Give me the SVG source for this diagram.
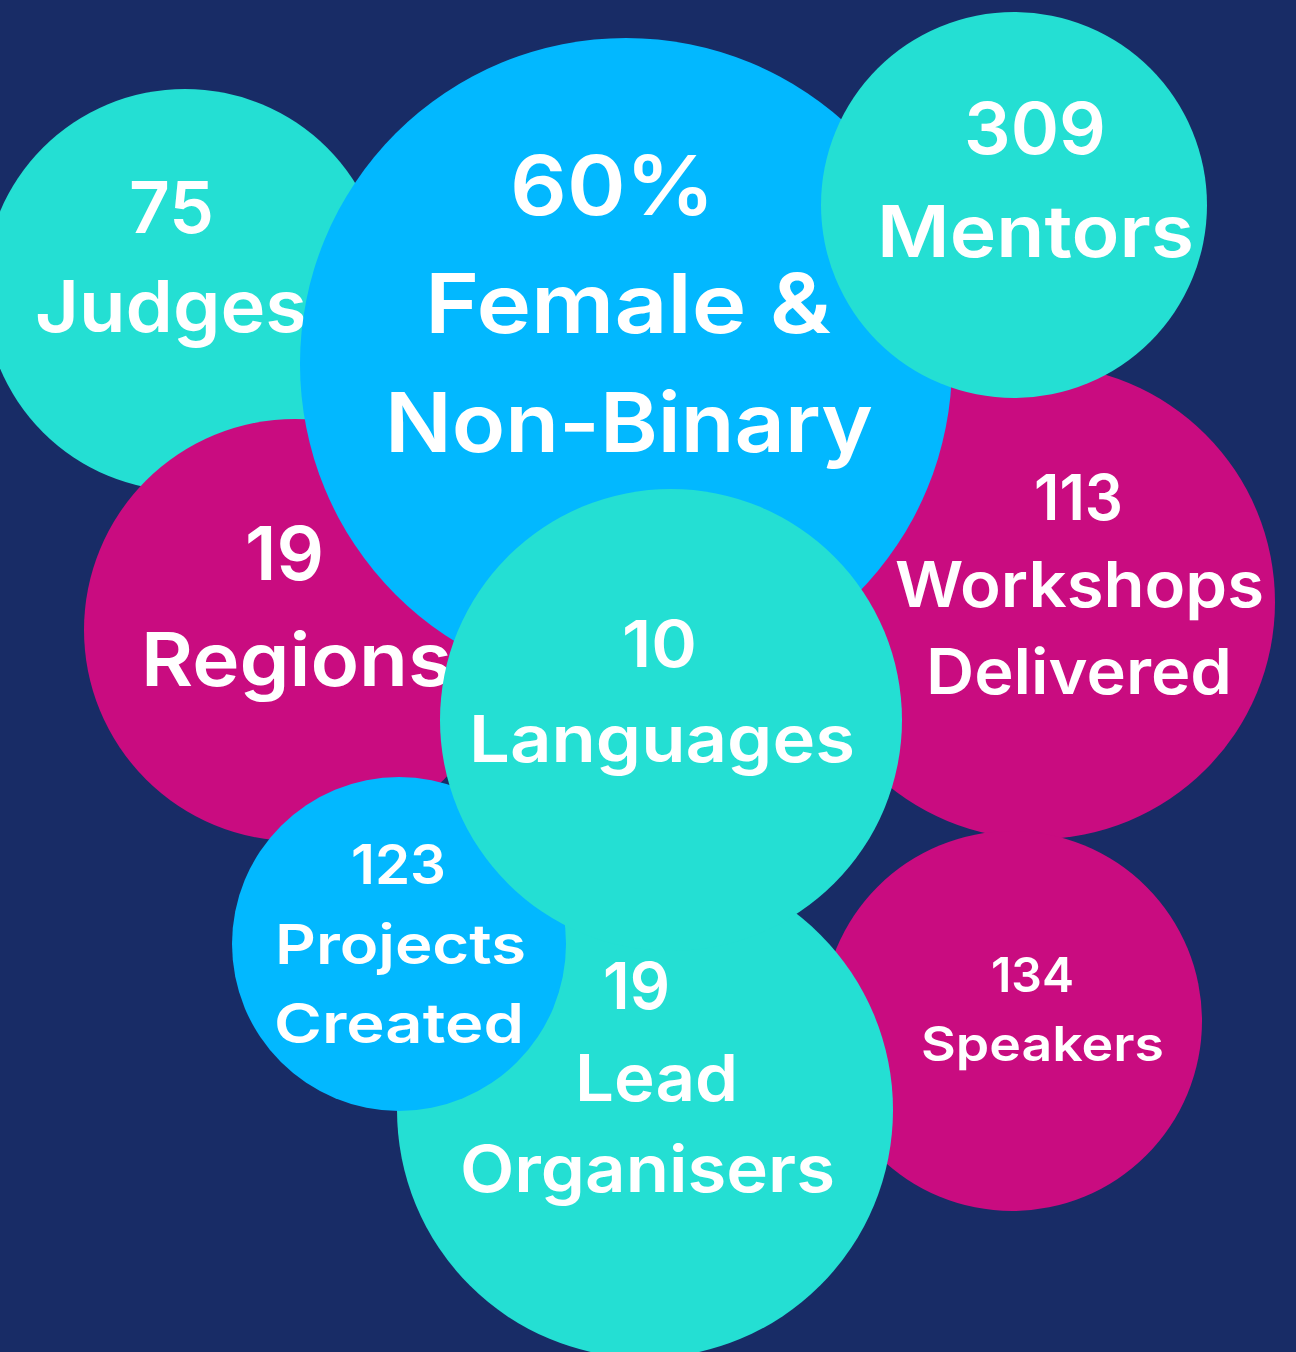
<svg xmlns="http://www.w3.org/2000/svg" width="1296" height="1352" viewBox="0 0 1296 1352">
<style>
.bg{fill:#182C66}
.teal{fill:#24DFD3}
.blue{fill:#02B8FF}
.mag{fill:#C90C80}
text{font-family:Inter,"Liberation Sans",sans-serif;font-weight:600;fill:#ffffff}
.s48{font-size:48px}.s55{font-size:55px}.s63{font-size:63px}.s65{font-size:65px}.s72{font-size:72px}.s74{font-size:74px}.s82{font-size:82px}
</style>
<rect class="bg" x="0" y="0" width="1296" height="1352"/>
<g id="node-workshops">
<circle class="mag" cx="1038" cy="602" r="237"/>
<text class="s63" x="1034" y="520" textLength="89" lengthAdjust="spacingAndGlyphs">113</text>
<text class="s63" x="895" y="607" textLength="369" lengthAdjust="spacingAndGlyphs">Workshops</text>
<text class="s63" x="926" y="694" textLength="306" lengthAdjust="spacingAndGlyphs">Delivered</text>
</g>
<g id="node-speakers">
<circle class="mag" cx="1012" cy="1021" r="190"/>
<text class="s48" x="991" y="992" textLength="83" lengthAdjust="spacingAndGlyphs">134</text>
<text class="s48" x="921" y="1061" textLength="243" lengthAdjust="spacingAndGlyphs">Speakers</text>
</g>
<g id="node-judges">
<circle class="teal" cx="185" cy="290" r="201"/>
<text class="s72" x="129" y="233" textLength="85" lengthAdjust="spacingAndGlyphs">75</text>
<text class="s72" x="35" y="332" textLength="272" lengthAdjust="spacingAndGlyphs">Judges</text>
</g>
<g id="node-regions">
<circle class="mag" cx="295" cy="630" r="211"/>
<text class="s74" x="245" y="580" textLength="79" lengthAdjust="spacingAndGlyphs">19</text>
<text class="s74" x="141" y="686" textLength="311" lengthAdjust="spacingAndGlyphs">Regions</text>
</g>
<g id="node-female-nonbinary">
<circle class="blue" cx="626" cy="364" r="326"/>
<text class="s82" x="510" y="215" textLength="205" lengthAdjust="spacingAndGlyphs">60%</text>
<text class="s82" x="425" y="333" textLength="406" lengthAdjust="spacingAndGlyphs">Female &amp;</text>
<text class="s82" x="385" y="452" textLength="488" lengthAdjust="spacingAndGlyphs">Non-Binary</text>
</g>
<g id="node-mentors">
<circle class="teal" cx="1014" cy="205" r="193"/>
<text class="s72" x="964" y="154" textLength="142" lengthAdjust="spacingAndGlyphs">309</text>
<text class="s72" x="877" y="257" textLength="317" lengthAdjust="spacingAndGlyphs">Mentors</text>
</g>
<g id="node-lead-organisers">
<circle class="teal" cx="645" cy="1110" r="248"/>
<text class="s65" x="603" y="1009" textLength="67" lengthAdjust="spacingAndGlyphs">19</text>
<text class="s65" x="575" y="1101" textLength="163" lengthAdjust="spacingAndGlyphs">Lead</text>
<text class="s65" x="460" y="1192" textLength="375" lengthAdjust="spacingAndGlyphs">Organisers</text>
</g>
<g id="node-projects">
<circle class="blue" cx="399" cy="944" r="167"/>
<text class="s55" x="351" y="884" textLength="95" lengthAdjust="spacingAndGlyphs">123</text>
<text class="s55" x="275" y="964" textLength="251" lengthAdjust="spacingAndGlyphs">Projects</text>
<text class="s55" x="274" y="1043" textLength="250" lengthAdjust="spacingAndGlyphs">Created</text>
</g>
<g id="node-languages">
<circle class="teal" cx="671" cy="720" r="231"/>
<text class="s65" x="622" y="667" textLength="75" lengthAdjust="spacingAndGlyphs">10</text>
<text class="s65" x="469" y="762" textLength="386" lengthAdjust="spacingAndGlyphs">Languages</text>
</g>
</svg>
